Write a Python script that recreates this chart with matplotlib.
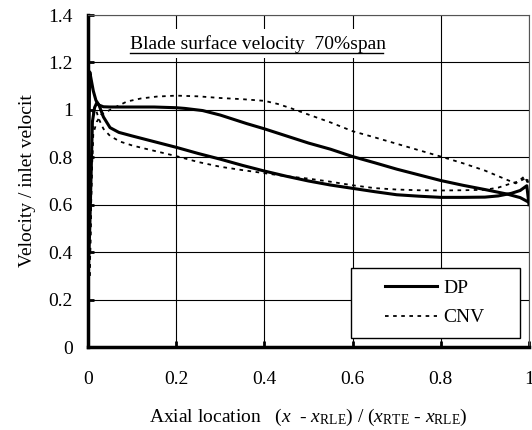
import matplotlib
matplotlib.use("Agg")
import matplotlib.pyplot as plt
from matplotlib.patches import Rectangle

plt.rcParams["font.family"] = ["Liberation Serif", "DejaVu Serif"]
plt.rcParams["mathtext.fontset"] = "custom"
plt.rcParams["mathtext.rm"] = "Liberation Serif"
plt.rcParams["mathtext.it"] = "Liberation Serif:italic"

# DP (solid) - two surfaces
dp_upper_x = [0.0, 0.002, 0.004, 0.008, 0.012, 0.018, 0.025, 0.035, 0.05, 0.1, 0.15, 0.2,
              0.22, 0.26, 0.3, 0.33, 0.36, 0.4, 0.46, 0.5, 0.55, 0.6, 0.65, 0.7, 0.75,
              0.8, 0.85, 0.9, 0.95, 0.98, 1.0]
dp_upper_v = [0.28, 0.9, 1.16, 1.12, 1.08, 1.04, 1.02, 1.013, 1.012, 1.012, 1.012, 1.009,
              1.006, 0.997, 0.978, 0.96, 0.942, 0.92, 0.884, 0.86, 0.834, 0.803, 0.777,
              0.75, 0.726, 0.702, 0.682, 0.664, 0.645, 0.63, 0.61]

dp_lower_x = [0.0, 0.004, 0.01, 0.015, 0.02, 0.025, 0.035, 0.05, 0.07, 0.1, 0.15, 0.2,
              0.25, 0.3, 0.35, 0.4, 0.45, 0.5, 0.55, 0.6, 0.65, 0.7, 0.75, 0.8, 0.85,
              0.9, 0.93, 0.96, 0.98, 0.995, 1.0]
dp_lower_v = [0.28, 0.5, 0.95, 1.01, 1.03, 1.02, 0.97, 0.925, 0.905, 0.89, 0.866, 0.842,
              0.816, 0.792, 0.766, 0.742, 0.72, 0.70, 0.683, 0.669, 0.655, 0.642, 0.636,
              0.631, 0.631, 0.632, 0.637, 0.648, 0.66, 0.68, 0.6]

# CNV (dotted) - two surfaces
cnv_upper_x = [0.004, 0.008, 0.012, 0.02, 0.03, 0.05, 0.088, 0.12, 0.156, 0.2, 0.25, 0.3,
               0.35, 0.4, 0.43, 0.46, 0.5, 0.55, 0.6, 0.65, 0.7, 0.75, 0.8, 0.85, 0.9,
               0.95, 0.97, 0.99, 1.0]
cnv_upper_v = [0.3, 0.7, 0.9, 0.95, 0.98, 1.0, 1.035, 1.048, 1.056, 1.06, 1.057, 1.05,
               1.045, 1.038, 1.025, 1.007, 0.98, 0.947, 0.91, 0.884, 0.857, 0.83, 0.803,
               0.775, 0.744, 0.705, 0.69, 0.72, 0.68]

cnv_lower_x = [0.004, 0.008, 0.012, 0.018, 0.025, 0.035, 0.05, 0.073, 0.1, 0.126, 0.2,
               0.25, 0.3, 0.35, 0.4, 0.45, 0.5, 0.55, 0.6, 0.65, 0.7, 0.75, 0.8, 0.85,
               0.9, 0.93, 0.96, 0.98, 0.995, 1.0]
cnv_lower_v = [0.3, 0.7, 1.0, 1.0, 0.96, 0.92, 0.89, 0.866, 0.85, 0.838, 0.805, 0.78,
               0.76, 0.746, 0.733, 0.72, 0.71, 0.697, 0.682, 0.67, 0.664, 0.661, 0.66,
               0.661, 0.663, 0.672, 0.69, 0.70, 0.715, 0.68]

x_ticks = [0, 0.2, 0.4, 0.6, 0.8, 1]
x_ticklabels = ["0", "0.2", "0.4", "0.6", "0.8", "1"]
y_ticks = [0, 0.2, 0.4, 0.6, 0.8, 1.0, 1.2, 1.4]
y_ticklabels = ["0", "0.2", "0.4", "0.6", "0.8", "1", "1.2", "1.4"]

fig = plt.figure(figsize=(5.32, 4.30), dpi=100)
ax = fig.add_axes([88 / 532, 1 - 347 / 430, 441 / 532, 332 / 430])

ax.plot(dp_upper_x, dp_upper_v, color="black", lw=2.2, label="DP", zorder=4)
ax.plot(dp_lower_x, dp_lower_v, color="black", lw=2.2, zorder=4)
ax.plot(cnv_upper_x, cnv_upper_v, color="black", lw=1.3, ls=(0, (2, 2.5)), label="CNV", zorder=3)
ax.plot(cnv_lower_x, cnv_lower_v, color="black", lw=1.3, ls=(0, (2, 2.5)), zorder=3)

ax.set_xlim(0, 1.0)
ax.set_ylim(0, 1.4)
ax.set_xticks(x_ticks)
ax.set_xticklabels(x_ticklabels)
ax.set_yticks(y_ticks)
ax.set_yticklabels(y_ticklabels)
ax.tick_params(direction="in", length=4, width=2, labelsize=14, colors="black")
ax.tick_params(axis="x", pad=17)
ax.tick_params(axis="y", pad=11)
ax.grid(True, color="black", lw=0.8)
ax.set_axisbelow(True)

for side in ["left", "bottom"]:
    ax.spines[side].set_linewidth(2.5)
for side in ["top", "right"]:
    ax.spines[side].set_linewidth(0.8)
    ax.spines[side].set_color("#555555")

ax.set_ylabel("Velocity / inlet velocit", fontsize=14, labelpad=9)
ax.set_xlabel(r"Axial location   $(x$  - $x_{\mathrm{RLE}})$ / $(x_{\mathrm{RTE}}$ - $x_{\mathrm{RLE}})$",
              fontsize=14, labelpad=14)

ax.text(0.095, 0.913, "Blade surface velocity  70%span", transform=ax.transAxes,
        fontsize=14, ha="left", va="center", zorder=5,
        bbox=dict(facecolor="white", edgecolor="none", pad=4))
ax.plot([0.095, 0.669], [0.887, 0.887], transform=ax.transAxes, color="black",
        lw=1.0, clip_on=False, zorder=6)

# legend box drawn separately so the entries sit centred in it
ax.add_patch(Rectangle((0.596, 0.027), 0.383, 0.211, transform=ax.transAxes,
                       facecolor="white", edgecolor="black", lw=1.0, zorder=6))
leg = ax.legend(loc="center", bbox_to_anchor=(0.786, 0.1325), fontsize=14, frameon=False,
                handlelength=2.7, handletextpad=0.3, borderpad=0.0, labelspacing=0.6,
                borderaxespad=0)
leg.set_zorder(7)

fig.savefig("out.png", dpi=100)
